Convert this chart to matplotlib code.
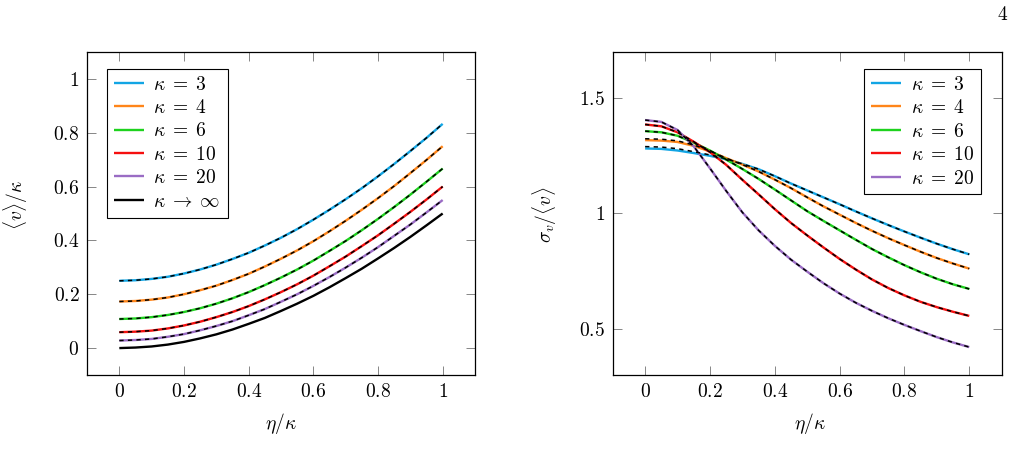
import matplotlib
matplotlib.use("Agg")
import matplotlib.pyplot as plt

plt.rcParams['mathtext.fontset'] = 'cm'
plt.rcParams['font.family'] = ['DejaVu Serif']

# ---------------- data ----------------
kappa_labels = [r'$\kappa\;=\;3$', r'$\kappa\;=\;4$', r'$\kappa\;=\;6$',
                r'$\kappa\;=\;10$', r'$\kappa\;=\;20$', r'$\kappa\;\to\;\infty$']
colors = ['#12A5E4', '#FF8519', '#1ED21E', '#F50F0F', '#9A6CC4', '#000000']

# left panel: <v>/kappa vs eta/kappa
x_left = [0.0, 0.05, 0.1, 0.15, 0.2, 0.25, 0.3, 0.35, 0.4, 0.45, 0.5,
          0.55, 0.6, 0.65, 0.7, 0.75, 0.8, 0.85, 0.9, 0.95, 1.0]
v_k3 = [0.250, 0.252, 0.257, 0.265, 0.277, 0.292, 0.310, 0.331, 0.354, 0.381, 0.410,
        0.442, 0.477, 0.514, 0.553, 0.594, 0.638, 0.684, 0.732, 0.781, 0.833]
v_k4 = [0.173, 0.175, 0.180, 0.188, 0.200, 0.215, 0.232, 0.253, 0.276, 0.303, 0.332,
        0.363, 0.397, 0.434, 0.473, 0.514, 0.557, 0.602, 0.650, 0.699, 0.750]
v_k6 = [0.108, 0.110, 0.115, 0.123, 0.134, 0.148, 0.165, 0.185, 0.208, 0.234, 0.262,
        0.292, 0.325, 0.361, 0.398, 0.438, 0.480, 0.524, 0.570, 0.618, 0.667]
v_k10 = [0.059, 0.061, 0.065, 0.073, 0.084, 0.098, 0.115, 0.134, 0.156, 0.181, 0.208,
         0.237, 0.269, 0.304, 0.340, 0.379, 0.419, 0.462, 0.506, 0.552, 0.600]
v_k20 = [0.028, 0.030, 0.034, 0.042, 0.052, 0.066, 0.082, 0.100, 0.122, 0.145, 0.172,
         0.200, 0.231, 0.264, 0.299, 0.336, 0.375, 0.417, 0.459, 0.504, 0.550]
v_inf = [0.000, 0.002, 0.006, 0.013, 0.023, 0.036, 0.051, 0.069, 0.090, 0.112, 0.138,
         0.165, 0.194, 0.226, 0.260, 0.295, 0.333, 0.372, 0.413, 0.456, 0.500]
v_series = [v_k3, v_k4, v_k6, v_k10, v_k20, v_inf]

# right panel: sigma_v/<v> vs eta/kappa
x_right = [0.0, 0.05, 0.1, 0.15, 0.2, 0.25, 0.3, 0.35, 0.4, 0.45, 0.5,
           0.55, 0.6, 0.65, 0.7, 0.75, 0.8, 0.85, 0.9, 0.95, 1.0]
s_k3 = [1.282, 1.280, 1.273, 1.262, 1.250, 1.235, 1.215, 1.192, 1.162, 1.130, 1.100,
        1.070, 1.040, 1.009, 0.979, 0.950, 0.922, 0.895, 0.869, 0.845, 0.823]
s_k4 = [1.318, 1.316, 1.310, 1.293, 1.269, 1.240, 1.212, 1.182, 1.147, 1.110, 1.070,
        1.031, 0.995, 0.959, 0.925, 0.893, 0.863, 0.834, 0.807, 0.783, 0.761]
s_k6 = [1.357, 1.352, 1.337, 1.307, 1.273, 1.234, 1.193, 1.150, 1.104, 1.057, 1.010,
        0.968, 0.927, 0.886, 0.846, 0.810, 0.776, 0.745, 0.717, 0.693, 0.673]
s_k10 = [1.386, 1.378, 1.352, 1.311, 1.266, 1.211, 1.146, 1.083, 1.019, 0.959, 0.905,
         0.853, 0.803, 0.757, 0.714, 0.677, 0.645, 0.617, 0.594, 0.574, 0.556]
s_k20 = [1.405, 1.397, 1.362, 1.291, 1.196, 1.098, 1.005, 0.927, 0.860, 0.800, 0.748,
         0.698, 0.653, 0.613, 0.578, 0.546, 0.517, 0.490, 0.464, 0.441, 0.421]
s_series = [s_k3, s_k4, s_k6, s_k10, s_k20]
# dashed (approximation) curves on the right panel
s_k3_dash = [1.290, 1.288, 1.281, 1.268, 1.254, 1.237, 1.215, 1.192, 1.162, 1.130, 1.100,
             1.070, 1.040, 1.009, 0.979, 0.950, 0.922, 0.895, 0.869, 0.845, 0.823]
s_k4_dash = [1.324, 1.322, 1.315, 1.297, 1.271, 1.240, 1.212, 1.182, 1.147, 1.110, 1.070,
             1.031, 0.995, 0.959, 0.925, 0.893, 0.863, 0.834, 0.807, 0.783, 0.761]
s_dash = [s_k3_dash, s_k4_dash, s_k6, s_k10, s_k20]

x_ticks = [0, 0.2, 0.4, 0.6, 0.8, 1.0]
x_ticklabels = ['0', '0.2', '0.4', '0.6', '0.8', '1']
yl_ticks = [0, 0.2, 0.4, 0.6, 0.8, 1.0]
yl_ticklabels = ['0', '0.2', '0.4', '0.6', '0.8', '1']
yr_ticks = [0.5, 1.0, 1.5]
yr_ticklabels = ['0.5', '1', '1.5']

# ---------------- figure ----------------
W, H = 1015, 467
fig = plt.figure(figsize=(W / 100, H / 100), dpi=100)

def px_axes(x0, y0, x1, y1):
    return fig.add_axes([x0 / W, 1 - y1 / H, (x1 - x0) / W, (y1 - y0) / H])

axL = px_axes(87, 52, 475, 375)
axR = px_axes(612.7, 52, 1001.7, 375)

FS = 14
LW = 1.7
DASH_LW = 1.1
DASHES = (2.8, 2.8)

def style(ax, xt, xtl, yt, ytl):
    ax.set_xticks(xt)
    ax.set_xticklabels(['$%s$' % t for t in xtl], fontsize=FS)
    ax.set_yticks(yt)
    ax.set_yticklabels(['$%s$' % t for t in ytl], fontsize=FS)
    ax.tick_params(direction='in', length=6.2, width=0.6, color='0.45',
                   top=True, right=True, pad=5.5)
    for s in ax.spines.values():
        s.set_linewidth(0.9)
        s.set_color('black')

# left panel
for ys, c, lab in zip(v_series, colors, kappa_labels):
    axL.plot(x_left, ys, color=c, lw=LW, label=lab, solid_capstyle='butt')
for ys in v_series[:-1]:
    axL.plot(x_left, ys, color='black', lw=DASH_LW, dashes=DASHES)
axL.set_xlim(-0.1, 1.1)
axL.set_ylim(-0.1, 1.1)
style(axL, x_ticks, x_ticklabels, yl_ticks, yl_ticklabels)
axL.set_xlabel(r'$\eta/\kappa$', fontsize=FS)
axL.set_ylabel(r'$\langle v\rangle/\kappa$', fontsize=FS)
axL.xaxis.set_label_coords((281 - 87) / 388, (375 - 423) / 323)
axL.xaxis.label.set_va('center')
axL.yaxis.set_label_coords((16 - 87) / 388, (375 - 205) / 323)
axL.yaxis.label.set_va('center')
handlesL, labelsL = axL.get_legend_handles_labels()
legL = axL.legend(handlesL[:6], labelsL[:6], loc='upper left',
                  bbox_to_anchor=((106.7 - 87) / 388, (375 - 68.7) / 323),
                  borderaxespad=0, fontsize=FS, frameon=True, fancybox=False,
                  edgecolor='black', framealpha=1, handlelength=1.55,
                  handletextpad=0.5, labelspacing=0.28, borderpad=0.35)
legL.get_frame().set_linewidth(0.8)

# right panel
for ys, c, lab in zip(s_series, colors[:5], kappa_labels[:5]):
    axR.plot(x_right, ys, color=c, lw=LW, label=lab, solid_capstyle='butt')
for ys in s_dash:
    axR.plot(x_right, ys, color='black', lw=DASH_LW, dashes=DASHES)
axR.set_xlim(-0.1, 1.1)
axR.set_ylim(0.3, 1.7)
style(axR, x_ticks, x_ticklabels, yr_ticks, yr_ticklabels)
axR.set_xlabel(r'$\eta/\kappa$', fontsize=FS)
axR.set_ylabel(r'$\sigma_v/\langle v\rangle$', fontsize=FS)
axR.xaxis.set_label_coords((810 - 612.7) / 389, (375 - 423) / 323)
axR.xaxis.label.set_va('center')
axR.yaxis.set_label_coords((545 - 612.7) / 389, (375 - 215) / 323)
axR.yaxis.label.set_va('center')
handlesR, labelsR = axR.get_legend_handles_labels()
legR = axR.legend(handlesR[:5], labelsR[:5], loc='upper right',
                  bbox_to_anchor=((981 - 612.7) / 389, (375 - 69) / 323),
                  borderaxespad=0, fontsize=FS, frameon=True, fancybox=False,
                  edgecolor='black', framealpha=1, handlelength=1.55,
                  handletextpad=0.5, labelspacing=0.28, borderpad=0.35)
legR.get_frame().set_linewidth(0.8)

# page number
fig.text(1003 / W, 1 - 15 / H, '$4$', fontsize=FS, ha='center', va='center')

fig.savefig('out.png', dpi=100)
